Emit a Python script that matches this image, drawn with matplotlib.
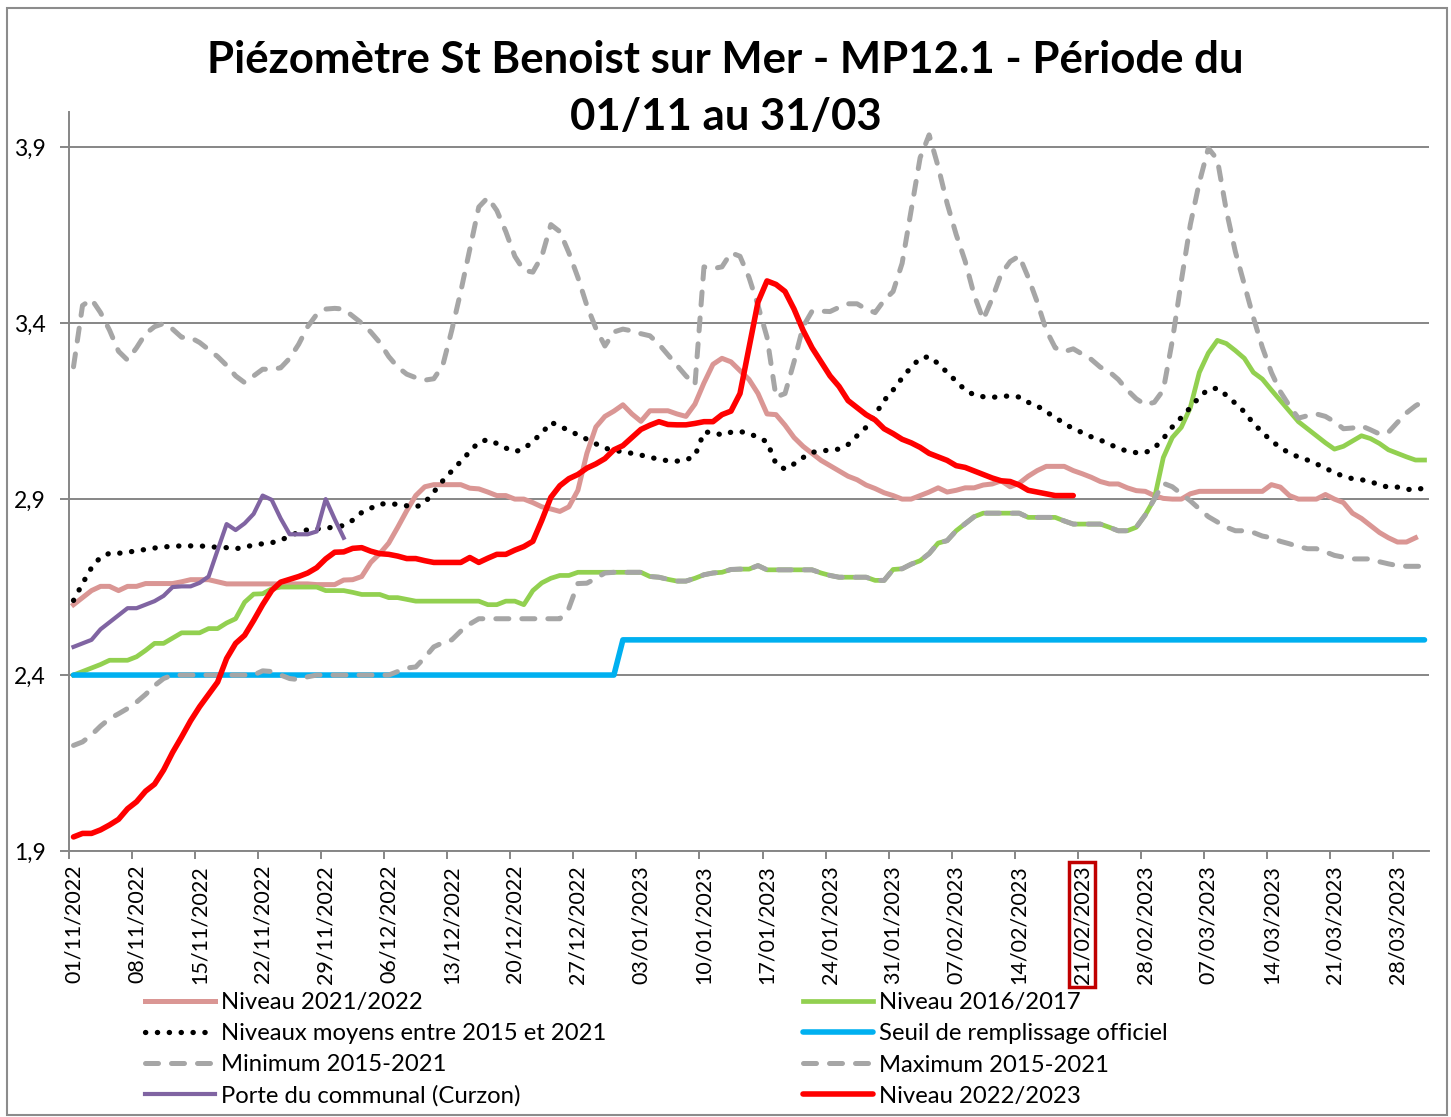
import numpy as np
import matplotlib
matplotlib.use("Agg")
import matplotlib.pyplot as plt
from matplotlib.patches import Rectangle

plt.rcParams['font.family'] = ['Lato', 'DejaVu Sans']

# daily values, 01/11/2022 -> 31/03/2023 (151 days)
tick_labels = ['01/11/2022', '08/11/2022', '15/11/2022', '22/11/2022', '29/11/2022',
               '06/12/2022', '13/12/2022', '20/12/2022', '27/12/2022', '03/01/2023',
               '10/01/2023', '17/01/2023', '24/01/2023', '31/01/2023', '07/02/2023',
               '14/02/2023', '21/02/2023', '28/02/2023', '07/03/2023', '14/03/2023',
               '21/03/2023', '28/03/2023']

niveau_2122 = [2.60, 2.62, 2.64, 2.652, 2.652, 2.64, 2.652, 2.652, 2.66, 2.66,
               2.66, 2.66, 2.665, 2.671, 2.671, 2.671, 2.665, 2.659, 2.659, 2.659,
               2.659, 2.659, 2.659, 2.659, 2.659, 2.659, 2.659, 2.657, 2.657, 2.657,
               2.67, 2.671, 2.68, 2.72, 2.745, 2.775, 2.82, 2.867, 2.91, 2.935,
               2.941, 2.941, 2.941, 2.941, 2.931, 2.929, 2.92, 2.91, 2.91, 2.90,
               2.90, 2.89, 2.878, 2.872, 2.865, 2.878, 2.925, 3.03, 3.105, 3.135,
               3.15, 3.168, 3.142, 3.121, 3.151, 3.151, 3.151, 3.142, 3.135, 3.17,
               3.23, 3.283, 3.30, 3.29, 3.265, 3.24, 3.20, 3.142, 3.14, 3.11,
               3.075, 3.05, 3.03, 3.01, 2.995, 2.98, 2.965, 2.955, 2.94, 2.93,
               2.918, 2.91, 2.90, 2.90, 2.91, 2.92, 2.932, 2.92, 2.925, 2.932,
               2.932, 2.94, 2.943, 2.952, 2.935, 2.945, 2.965, 2.981, 2.993, 2.993,
               2.993, 2.981, 2.972, 2.962, 2.95, 2.943, 2.943, 2.932, 2.924, 2.922,
               2.91, 2.902, 2.90, 2.90, 2.915, 2.922, 2.922, 2.922, 2.922, 2.922,
               2.922, 2.922, 2.922, 2.941, 2.934, 2.91, 2.90, 2.90, 2.90, 2.913,
               2.90, 2.89, 2.86, 2.845, 2.825, 2.805, 2.79, 2.778, 2.778, 2.79]

niveau_1617 = [2.40, 2.41, 2.42, 2.43, 2.442, 2.442, 2.442, 2.452, 2.47, 2.49,
               2.49, 2.505, 2.52, 2.52, 2.52, 2.532, 2.532, 2.548, 2.56, 2.607,
               2.63, 2.631, 2.645, 2.65, 2.65, 2.65, 2.65, 2.65, 2.64, 2.64,
               2.64, 2.635, 2.629, 2.629, 2.629, 2.62, 2.62, 2.615, 2.61, 2.61,
               2.61, 2.61, 2.61, 2.61, 2.61, 2.61, 2.60, 2.60, 2.61, 2.61,
               2.60, 2.64, 2.662, 2.675, 2.683, 2.683, 2.692, 2.692, 2.692, 2.692,
               2.692, 2.692, 2.692, 2.692, 2.68, 2.678, 2.672, 2.667, 2.667, 2.675,
               2.685, 2.69, 2.692, 2.70, 2.701, 2.701, 2.711, 2.699, 2.699, 2.699,
               2.699, 2.699, 2.699, 2.69, 2.683, 2.678, 2.678, 2.678, 2.678, 2.669,
               2.669, 2.70, 2.702, 2.715, 2.725, 2.745, 2.775, 2.782, 2.81, 2.83,
               2.85, 2.86, 2.86, 2.86, 2.86, 2.86, 2.848, 2.848, 2.848, 2.848,
               2.838, 2.829, 2.829, 2.829, 2.829, 2.82, 2.81, 2.81, 2.82, 2.855,
               2.90, 3.018, 3.075, 3.104, 3.16, 3.26, 3.315, 3.351, 3.342, 3.322,
               3.30, 3.26, 3.241, 3.21, 3.18, 3.15, 3.12, 3.10, 3.08, 3.06,
               3.042, 3.05, 3.065, 3.08, 3.072, 3.058, 3.04, 3.03, 3.02, 3.011, 3.011]

moyens = [2.612, 2.66, 2.705, 2.735, 2.746, 2.746, 2.749, 2.753, 2.757, 2.761,
          2.764, 2.766, 2.767, 2.767, 2.767, 2.765, 2.763, 2.762, 2.759, 2.763,
          2.77, 2.773, 2.776, 2.783, 2.795, 2.806, 2.813, 2.815, 2.818, 2.82,
          2.825, 2.84, 2.862, 2.874, 2.886, 2.887, 2.885, 2.881, 2.877, 2.89,
          2.92, 2.952, 2.98, 3.007, 3.035, 3.062, 3.069, 3.058, 3.045, 3.035,
          3.042, 3.065, 3.087, 3.118, 3.108, 3.094, 3.083, 3.07, 3.057, 3.045,
          3.038, 3.035, 3.03, 3.025, 3.019, 3.013, 3.009, 3.008, 3.011, 3.023,
          3.09, 3.09, 3.082, 3.09, 3.092, 3.087, 3.075, 3.063, 3.00, 2.985,
          3.00, 3.018, 3.033, 3.036, 3.04, 3.042, 3.055, 3.08, 3.104, 3.14,
          3.18, 3.21, 3.244, 3.275, 3.30, 3.305, 3.285, 3.26, 3.235, 3.21,
          3.196, 3.191, 3.189, 3.192, 3.193, 3.19, 3.175, 3.165, 3.148, 3.132,
          3.115, 3.10, 3.089, 3.077, 3.068, 3.056, 3.045, 3.036, 3.032, 3.032,
          3.045, 3.072, 3.105, 3.132, 3.16, 3.19, 3.212, 3.215, 3.195, 3.172,
          3.148, 3.115, 3.09, 3.065, 3.047, 3.03, 3.02, 3.011, 3.0, 2.988,
          2.975, 2.965, 2.958, 2.955, 2.95, 2.94, 2.934, 2.934, 2.928, 2.926, 2.932]

seuil = [2.40] * 61 + [2.50] * 90

minimum = [2.20, 2.21, 2.23, 2.255, 2.276, 2.29, 2.305, 2.323, 2.345, 2.37,
           2.39, 2.40, 2.40, 2.40, 2.40, 2.40, 2.40, 2.40, 2.40, 2.40,
           2.40, 2.412, 2.41, 2.40, 2.39, 2.387, 2.395, 2.40, 2.40, 2.40,
           2.40, 2.40, 2.40, 2.40, 2.40, 2.40, 2.41, 2.42, 2.423, 2.45,
           2.48, 2.492, 2.50, 2.525, 2.545, 2.56, 2.56, 2.56, 2.56, 2.56,
           2.56, 2.56, 2.56, 2.56, 2.56, 2.59, 2.66, 2.661, 2.675, 2.69,
           2.692, 2.692, 2.692, 2.692, 2.68, 2.678, 2.672, 2.667, 2.667, 2.675,
           2.685, 2.69, 2.692, 2.70, 2.701, 2.701, 2.711, 2.699, 2.699, 2.699,
           2.699, 2.699, 2.699, 2.69, 2.683, 2.678, 2.678, 2.678, 2.678, 2.669,
           2.669, 2.70, 2.702, 2.715, 2.725, 2.745, 2.775, 2.782, 2.81, 2.83,
           2.85, 2.86, 2.86, 2.86, 2.86, 2.86, 2.848, 2.848, 2.848, 2.848,
           2.838, 2.829, 2.829, 2.829, 2.829, 2.82, 2.81, 2.81, 2.82, 2.855,
           2.90, 2.945, 2.935, 2.915, 2.895, 2.872, 2.85, 2.835, 2.82, 2.81,
           2.81, 2.805, 2.795, 2.79, 2.78, 2.773, 2.765, 2.759, 2.759, 2.75,
           2.74, 2.735, 2.73, 2.73, 2.73, 2.722, 2.716, 2.711, 2.709, 2.709, 2.709]

maximum = [3.276, 3.45, 3.468, 3.43, 3.38, 3.32, 3.295, 3.33, 3.37, 3.39,
           3.399, 3.383, 3.36, 3.359, 3.345, 3.325, 3.305, 3.28, 3.25, 3.231,
           3.25, 3.269, 3.269, 3.273, 3.30, 3.34, 3.39, 3.425, 3.44, 3.442,
           3.44, 3.42, 3.40, 3.375, 3.345, 3.305, 3.275, 3.255, 3.245, 3.238,
           3.242, 3.28, 3.38, 3.49, 3.61, 3.73, 3.757, 3.72, 3.66, 3.59,
           3.55, 3.545, 3.59, 3.68, 3.66, 3.60, 3.53, 3.45, 3.385, 3.335,
           3.375, 3.383, 3.378, 3.37, 3.364, 3.34, 3.31, 3.28, 3.25, 3.225,
           3.56, 3.555, 3.56, 3.60, 3.59, 3.53, 3.45, 3.36, 3.19, 3.20,
           3.29, 3.39, 3.434, 3.434, 3.433, 3.445, 3.455, 3.455, 3.44, 3.43,
           3.465, 3.49, 3.57, 3.72, 3.87, 3.935, 3.845, 3.74, 3.652, 3.576,
           3.48, 3.41, 3.47, 3.54, 3.575, 3.591, 3.53, 3.46, 3.38, 3.33,
           3.319, 3.327, 3.312, 3.297, 3.275, 3.262, 3.24, 3.21, 3.185, 3.168,
           3.175, 3.21, 3.35, 3.52, 3.68, 3.80, 3.897, 3.865, 3.72, 3.603,
           3.51, 3.416, 3.331, 3.26, 3.205, 3.165, 3.13, 3.137, 3.142, 3.135,
           3.12, 3.10, 3.102, 3.108, 3.097, 3.085, 3.09, 3.118, 3.145, 3.165, 3.18]

curzon = [2.48, 2.49, 2.50, 2.53, 2.55, 2.57, 2.59, 2.59, 2.60, 2.61,
          2.625, 2.65, 2.652, 2.652, 2.662, 2.68, 2.755, 2.829, 2.812, 2.831,
          2.858, 2.91, 2.898, 2.845, 2.80, 2.80, 2.80, 2.808, 2.90, 2.843, 2.79]

niveau_2223 = [1.94, 1.95, 1.95, 1.96, 1.974, 1.99, 2.02, 2.04, 2.07, 2.09,
               2.13, 2.18, 2.224, 2.27, 2.31, 2.345, 2.38, 2.447, 2.49, 2.513,
               2.555, 2.60, 2.64, 2.664, 2.672, 2.68, 2.69, 2.705, 2.73, 2.749,
               2.75, 2.76, 2.762, 2.752, 2.745, 2.743, 2.738, 2.731, 2.731, 2.725,
               2.72, 2.72, 2.72, 2.72, 2.734, 2.72, 2.732, 2.743, 2.743, 2.755,
               2.765, 2.78, 2.84, 2.905, 2.938, 2.958, 2.97, 2.988, 3.0, 3.015,
               3.04, 3.052, 3.075, 3.098, 3.11, 3.12, 3.112, 3.111, 3.111, 3.115,
               3.12, 3.12, 3.14, 3.15, 3.20, 3.33, 3.46, 3.52, 3.51, 3.49,
               3.44, 3.38, 3.33, 3.29, 3.25, 3.22, 3.18, 3.16, 3.14, 3.125,
               3.10, 3.086, 3.07, 3.06, 3.047, 3.03, 3.02, 3.01, 2.995, 2.99,
               2.98, 2.97, 2.96, 2.952, 2.95, 2.94, 2.925, 2.92, 2.915, 2.91,
               2.91, 2.91]

x = np.arange(len(niveau_1617))

fig = plt.figure(figsize=(14.51, 11.17), dpi=100)
ax = fig.add_axes([69 / 1451, 1 - 851 / 1117, (1429 - 69) / 1451, (851 - 112) / 1117])

dash = (0, (2.6, 2.6))
dots = (0, (0.05, 2.2))
l_pink, = ax.plot(x[:len(niveau_2122)], niveau_2122, color='#DA9694', lw=3.6,
                  solid_joinstyle='round', label='Niveau 2021/2022')
l_green, = ax.plot(x, niveau_1617, color='#92D050', lw=3.4,
                   solid_joinstyle='round', label='Niveau 2016/2017')
l_moy, = ax.plot(x, moyens, color='black', lw=3.8, linestyle=dots,
                 dash_capstyle='round', label='Niveaux moyens entre 2015 et 2021')
l_seuil, = ax.plot(x, seuil, color='#00B0F0', lw=4, solid_capstyle='round',
                   label='Seuil de remplissage officiel')
l_min, = ax.plot(x, minimum, color='#A6A6A6', lw=3.6, linestyle=dash,
                 dash_capstyle='round', label='Minimum 2015-2021')
l_max, = ax.plot(x, maximum, color='#A6A6A6', lw=3.6, linestyle=dash,
                 dash_capstyle='round', label='Maximum 2015-2021')
l_cur, = ax.plot(x[:len(curzon)], curzon, color='#8064A2', lw=3,
                 solid_joinstyle='round', label='Porte du communal (Curzon)')
l_red, = ax.plot(x[:len(niveau_2223)], niveau_2223, color='#FF0000', lw=4,
                 solid_joinstyle='round', solid_capstyle='round', label='Niveau 2022/2023')

ax.set_xlim(-0.5, len(x) - 0.5)
ax.set_ylim(1.9, 4.0)
ax.set_yticks([1.9, 2.4, 2.9, 3.4, 3.9])
ax.set_yticklabels(['1,9', '2,4', '2,9', '3,4', '3,9'])
tick_pos = np.arange(0, len(x), 7)
ax.set_xticks(tick_pos)
ax.set_xticklabels(tick_labels, rotation=90)
ax.set_xticks(tick_pos - 0.5, minor=True)

grey = '#868686'
ax.yaxis.grid(True, color=grey, lw=1.4)
ax.set_axisbelow(True)
for s in ['top', 'right']:
    ax.spines[s].set_visible(False)
for s in ['left', 'bottom']:
    ax.spines[s].set_color(grey)
    ax.spines[s].set_linewidth(1.4)
ax.tick_params(axis='y', length=6.5, width=1.4, color=grey, pad=10, labelsize=16.5)
ax.tick_params(axis='x', which='major', length=0, pad=10, labelsize=15.5)
ax.tick_params(axis='x', which='minor', length=6, width=1.4, color=grey)

hl = ax.get_xticklabels()[16]
hl.set_bbox(dict(boxstyle='square,pad=0.15', facecolor='none', edgecolor='#C00000', lw=2.5))

fig.text(0.5, 1 - 88.5 / 1117, 'Piézomètre St Benoist sur Mer - MP12.1 - Période du\n01/11 au 31/03',
         ha='center', va='center', fontsize=31.5, fontweight='bold', linespacing=1.52)

leg_kw = dict(loc='center left', frameon=False, fontsize=17.2, handlelength=2.95,
              handletextpad=0.25, labelspacing=0.42, borderpad=0, borderaxespad=0)
fig.legend(handles=[l_pink, l_moy, l_min, l_cur],
           bbox_to_anchor=(145 / 1451, 1 - 1049.5 / 1117), **leg_kw)
fig.legend(handles=[l_green, l_seuil, l_max, l_red],
           bbox_to_anchor=(803 / 1451, 1 - 1049.5 / 1117), **leg_kw)

fig.patches.append(Rectangle((7 / 1451, 1 - 1115 / 1117), 1440 / 1451, 1107 / 1117,
                             transform=fig.transFigure, fill=False,
                             edgecolor='#8C8C8C', lw=1.5))

fig.savefig('out.png', dpi=100)
